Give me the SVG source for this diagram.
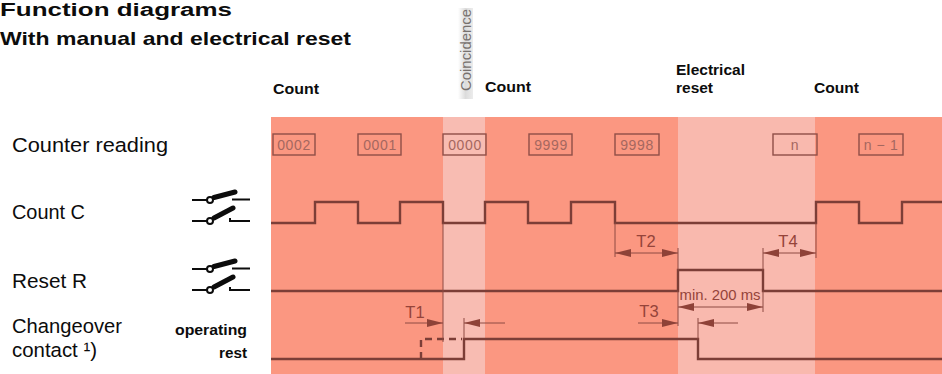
<svg xmlns="http://www.w3.org/2000/svg" width="942" height="374" viewBox="0 0 942 374">
<style>
text{font-family:"Liberation Sans",Arial,sans-serif;fill:#0c0c0c}
.h{font-size:19px;font-weight:700}
.l{font-size:20.500px}
.s{font-size:15px;font-weight:700}
.o{font-size:15px;font-weight:700;text-anchor:end}
.d{font-size:14px;letter-spacing:.6px;fill:#a5675f;text-anchor:middle}
.t{font-size:16.500px;fill:#95443a;text-anchor:middle}
.box{fill:none;stroke:#8f4f48;stroke-width:1.4}
.w{fill:none;stroke:#7c3e37;stroke-width:2.4}
.f{fill:none;stroke:#8e4b42;stroke-width:1}
.sw{fill:none;stroke:#0c0c0c;stroke-width:2}
.bl{stroke:#0c0c0c;stroke-width:5;stroke-linecap:round}
.c{fill:#fff;stroke:#0c0c0c;stroke-width:2}
</style>
<defs>
<marker id="a" viewBox="0 0 16 8" refX="16" refY="4" markerWidth="16" markerHeight="8" markerUnits="userSpaceOnUse" orient="auto-start-reverse"><path d="M0 0L16 4L0 8Z" fill="#8e4238"/></marker>
<linearGradient id="g" x1="0" x2="1" y1="0" y2="0"><stop offset="0" stop-color="#fff"/><stop offset=".5" stop-color="#dcdcdc"/><stop offset="1" stop-color="#ececec"/></linearGradient>
<g id="sw"><path class="sw" d="M192 200H209M232 199.500H250"/><path class="bl" d="M214 197.500L235 192"/><circle class="c" cx="210" cy="200" r="3"/><path class="sw" d="M192 221H209M230 218V221H250"/><path class="bl" d="M214 218L233 208"/><circle class="c" cx="210" cy="221" r="3"/></g>
</defs>
<g id="background">
<rect x="271" y="117" width="671" height="257" fill="#fb9781"/>
<rect x="443" y="117" width="42" height="257" fill="#f8bcb2"/>
<rect x="678" y="117" width="137" height="257" fill="#f9b9ae"/>
</g>
<g id="titles"><text class="h" x="0" y="16" style="font-size:17.500px" textLength="232" lengthAdjust="spacingAndGlyphs">Function diagrams</text><text class="h" x="0" y="45" textLength="351" lengthAdjust="spacingAndGlyphs">With manual and electrical reset</text></g>
<g id="phase-labels">
<text class="s" x="273" y="94" textLength="46" lengthAdjust="spacingAndGlyphs">Count</text>
<rect x="458" y="8" width="15" height="91" fill="url(#g)"/>
<text x="471" y="91" font-size="14.500" transform="rotate(-90 471 91)" style="fill:#77716e" textLength="82" lengthAdjust="spacingAndGlyphs">Coincidence</text>
<text class="s" x="485" y="92" textLength="46" lengthAdjust="spacingAndGlyphs">Count</text>
<text class="s" x="676" y="75" textLength="69" lengthAdjust="spacingAndGlyphs">Electrical</text><text class="s" x="676" y="93" textLength="37" lengthAdjust="spacingAndGlyphs">reset</text>
<text class="s" x="814" y="93" textLength="45" lengthAdjust="spacingAndGlyphs">Count</text>
</g>
<g id="row-labels">
<text class="l" x="12" y="152" textLength="156" lengthAdjust="spacingAndGlyphs">Counter reading</text>
<text class="l" x="12" y="219" textLength="73" lengthAdjust="spacingAndGlyphs">Count C</text>
<text class="l" x="12" y="288" textLength="75" lengthAdjust="spacingAndGlyphs">Reset R</text>
<text class="l" x="12" y="333" textLength="110" lengthAdjust="spacingAndGlyphs">Changeover</text>
<text class="l" x="12" y="357" textLength="85" lengthAdjust="spacingAndGlyphs">contact ¹)</text>
<text class="o" x="247" y="335" textLength="72" lengthAdjust="spacingAndGlyphs">operating</text><text class="o" x="247" y="358" textLength="28" lengthAdjust="spacingAndGlyphs">rest</text>
</g>
<g id="switch-count"><use href="#sw"/></g>
<g id="switch-reset"><use href="#sw" y="69"/></g>
<g id="counter-boxes">
<g id="c0002"><rect class="box" x="273" y="134" width="42" height="21"/><text class="d" x="294" y="150">0002</text></g>
<g id="c0001"><rect class="box" x="358" y="134" width="43" height="21"/><text class="d" x="380" y="150">0001</text></g>
<g id="c0000"><rect class="box" x="443" y="134" width="43" height="21"/><text class="d" x="465" y="150">0000</text></g>
<g id="c9999"><rect class="box" x="529" y="134" width="43" height="21"/><text class="d" x="551" y="150">9999</text></g>
<g id="c9998"><rect class="box" x="615" y="134" width="44" height="21"/><text class="d" x="637" y="150">9998</text></g>
<g id="cn"><rect class="box" x="773" y="134" width="44" height="21"/><text class="d" x="795" y="150">n</text></g>
<g id="cn1"><rect class="box" x="859" y="134" width="44" height="21"/><text class="d" x="881" y="150">n − 1</text></g>
</g>
<g id="connectors">
<path class="w" d="M271 223H315V202H358V223H400V202H443V223H485V202H528V223H571V202H615V223H816V202H859V223H902V202H942"/>
<path class="w" d="M271 291H678V270H763V291H942"/>
<path class="w" d="M271 359H464V339H698V359H942"/>
<path class="w" d="M421 359V339H462" stroke-dasharray="7 5"/>
<path class="f" d="M443 223V342M464 318V339M615 223V257M678 248V270M763 248V270M816 223V258M678 291V326M763 291V312M698 318V339"/>
<path class="f" d="M405 323H443" marker-end="url(#a)"/>
<path class="f" d="M464 323H505" marker-start="url(#a)"/>
<path class="f" d="M615 253H678" marker-start="url(#a)" marker-end="url(#a)"/>
<path class="f" d="M763 253H816" marker-start="url(#a)" marker-end="url(#a)"/>
<path class="f" d="M678 307H763" marker-start="url(#a)" marker-end="url(#a)"/>
<path class="f" d="M638 323H678" marker-end="url(#a)"/>
<path class="f" d="M698 323H738" marker-start="url(#a)"/>
</g>
<g id="timing-labels">
<text class="t" x="415" y="318">T1</text>
<text class="t" x="646" y="247">T2</text>
<text class="t" x="649" y="317">T3</text>
<text class="t" x="788" y="247">T4</text>
<text class="t" x="720" y="300" style="font-size:14px" textLength="81" lengthAdjust="spacingAndGlyphs">min. 200 ms</text>
</g>
</svg>
